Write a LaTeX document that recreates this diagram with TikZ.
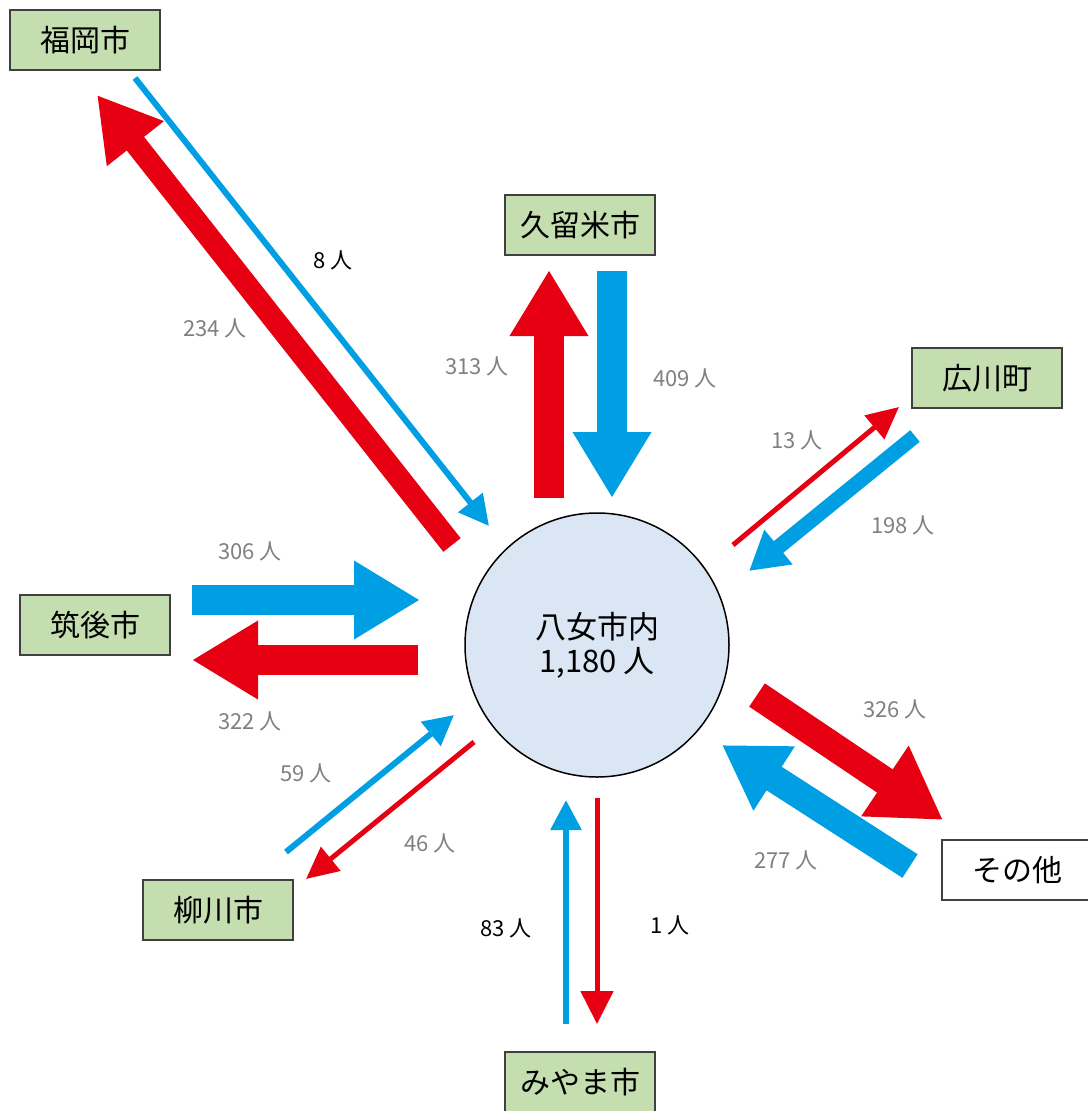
\documentclass[tikz,border=0pt]{standalone}
\usepackage{fontspec}
\setmainfont{Noto Sans CJK JP}
\usetikzlibrary{arrows.meta}
\definecolor{flowred}{HTML}{E60012}
\definecolor{flowblue}{HTML}{009FE3}
\definecolor{boxgreen}{HTML}{C5DEB0}
\definecolor{circfill}{HTML}{DAE6F3}
\definecolor{numgray}{HTML}{808080}
\tikzset{
  place/.style={draw=black!75, line width=1.5pt, fill=boxgreen, minimum width=150pt, minimum height=60pt, inner sep=0pt, font=\fontsize{30}{32}\selectfont},
  otherplace/.style={place, fill=white},
  num/.style={text=numgray, font=\fontsize{22}{24}\selectfont, inner sep=0pt},
  numblack/.style={text=black, font=\fontsize{22}{24}\selectfont, inner sep=0pt},
  fat/.style={line width=30pt, -{Triangle[width=74pt,length=66pt]}},
  mid/.style={line width=15pt, -{Triangle[width=42pt,length=38pt]}},
  thin/.style={line width=6pt, -{Triangle[width=30pt,length=30pt]}},
  redflow/.style={draw=flowred},
  blueflow/.style={draw=flowblue},
}
\begin{document}
\begin{tikzpicture}[x=1pt,y=-1pt]
\useasboundingbox (0,0) rectangle (1087,1111);
% centre
\node[circle, draw=black, line width=1.5pt, fill=circfill, minimum size=264pt, inner sep=0pt, align=center, font=\fontsize{31}{34}\selectfont] (yame) at (597,645) {八女市内\\1,180 人};
% places
\node[place] (fukuoka) at (85,40) {福岡市};
\node[place] (kurume) at (580,225) {久留米市};
\node[place] (hirokawa) at (987,378) {広川町};
\node[place] (chikugo) at (95,625) {筑後市};
\node[place] (yanagawa) at (218,910) {柳川市};
\node[place] (miyama) at (580,1082) {みやま市};
\node[otherplace] (sonota) at (1017,870) {その他};
% arrow end points
\coordinate (fkRa) at (452,545); \coordinate (fkRb) at (97,95);
\coordinate (fkBa) at (135,78);  \coordinate (fkBb) at (489,526);
\coordinate (kuRa) at (549,498); \coordinate (kuRb) at (549,270);
\coordinate (kuBa) at (612,271); \coordinate (kuBb) at (612,498);
\coordinate (hiRa) at (733,545); \coordinate (hiRb) at (899,407);
\coordinate (hiBa) at (915,436); \coordinate (hiBb) at (749,571);
\coordinate (chBa) at (192,600); \coordinate (chBb) at (420,600);
\coordinate (chRa) at (418,660); \coordinate (chRb) at (192,660);
\coordinate (yaBa) at (286,852); \coordinate (yaBb) at (454,715);
\coordinate (yaRa) at (474,742); \coordinate (yaRb) at (306,879);
\coordinate (miBa) at (566,1024); \coordinate (miBb) at (566,800);
\coordinate (miRa) at (597,798); \coordinate (miRb) at (597,1024);
\coordinate (soRa) at (757,695); \coordinate (soRb) at (943,820);
\coordinate (soBa) at (910,866); \coordinate (soBb) at (722,745);
% flows
\draw[redflow, line width=22pt, -{Triangle[width=68pt,length=62pt]}] (fkRa) -- (fkRb);
\draw[blueflow, thin] (fkBa) -- (fkBb);
\draw[redflow, fat] (kuRa) -- (kuRb);
\draw[blueflow, fat] (kuBa) -- (kuBb);
\draw[redflow, line width=5pt, -{Triangle[width=30pt,length=32pt]}] (hiRa) -- (hiRb);
\draw[blueflow, mid] (hiBa) -- (hiBb);
\draw[blueflow, fat] (chBa) -- (chBb);
\draw[redflow, fat] (chRa) -- (chRb);
\draw[blueflow, thin] (yaBa) -- (yaBb);
\draw[redflow, line width=5pt, -{Triangle[width=30pt,length=32pt]}] (yaRa) -- (yaRb);
\draw[blueflow, thin] (miBa) -- (miBb);
\draw[redflow, line width=5pt, -{Triangle[width=32pt,length=33pt]}] (miRa) -- (miRb);
\draw[redflow, line width=28pt, -{Triangle[width=80pt,length=70pt]}] (soRa) -- (soRb);
\draw[blueflow, line width=28pt, -{Triangle[width=72pt,length=62pt]}] (soBa) -- (soBb);
% labels
\node[numblack] (l8) at (333,260) {8 人};
\node[num] (l234) at (215,328) {234 人};
\node[num] (l313) at (477,366) {313 人};
\node[num] (l409) at (685,378) {409 人};
\node[num] (l13) at (797,440) {13 人};
\node[num] (l198) at (903,525) {198 人};
\node[num] (l306) at (250,551) {306 人};
\node[num] (l322) at (250,721) {322 人};
\node[num] (l59) at (306,773) {59 人};
\node[num] (l46) at (430,843) {46 人};
\node[numblack] (l83) at (506,928) {83 人};
\node[numblack] (l1) at (670,925) {1 人};
\node[num] (l326) at (895,709) {326 人};
\node[num] (l277) at (786,860) {277 人};
\end{tikzpicture}
\end{document}
